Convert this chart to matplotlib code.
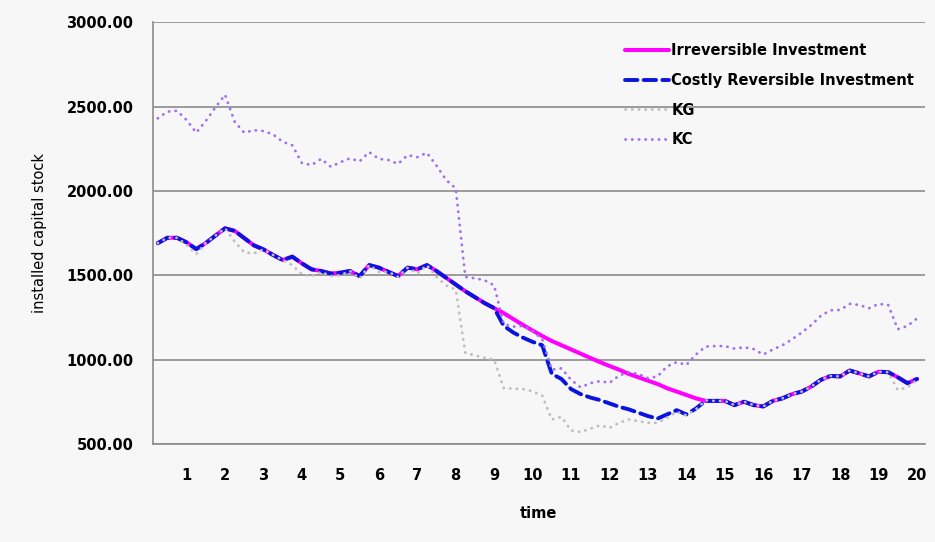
import numpy as np
import matplotlib
matplotlib.use("Agg")
import matplotlib.pyplot as plt

# quarterly observations, labelled by year 1..20
quarters = np.arange(1, 81) / 4.0
year_ticks = list(range(1, 21))

irreversible = [
    1690, 1722, 1722, 1695, 1655, 1691, 1735, 1778,
    1763, 1720, 1677, 1653, 1620, 1590, 1610, 1570,
    1535, 1525, 1510, 1515, 1525, 1495, 1560, 1545,
    1520, 1495, 1545, 1535, 1560, 1525, 1485, 1445,
    1405, 1370, 1335, 1305, 1275, 1240, 1205, 1172,
    1140, 1110, 1085, 1060, 1035, 1010, 985, 962,
    940, 915, 895, 875, 855, 830, 810, 790,
    770, 755, 755, 755, 730, 750, 730, 722,
    755, 770, 795, 810, 840, 880, 903, 900,
    935, 918, 900, 928, 925, 895, 860, 885,
]

costly_reversible = irreversible[:36] + [
    1200, 1160, 1130, 1105,
    1085, 915, 885, 825, 795, 775, 760, 740,
    720, 705, 685, 665, 650, 675, 700, 675,
    710, 755,
] + irreversible[58:]

kg = [
    1690, 1722, 1722, 1680, 1625, 1691, 1735, 1778,
    1700, 1635, 1630, 1653, 1620, 1590, 1560, 1505,
    1495, 1520, 1495, 1500, 1525, 1480, 1560, 1520,
    1520, 1490, 1545, 1510, 1560, 1490, 1440, 1415,
    1040, 1025, 1010, 1000, 830, 828, 825, 812,
    785, 645, 660, 580, 570, 590, 610, 595,
    625, 645, 635, 625, 625, 655, 690, 670,
    705, 758, 755, 755, 730, 750, 730, 722,
    755, 770, 795, 810, 840, 880, 903, 900,
    935, 918, 900, 928, 925, 820, 835, 880,
]

kc = [
    2430, 2470, 2475, 2420, 2345, 2415, 2495, 2570,
    2410, 2345, 2360, 2355, 2335, 2291, 2270, 2165,
    2153, 2190, 2143, 2170, 2193, 2175, 2230, 2190,
    2183, 2160, 2212, 2200, 2226, 2150, 2065, 2015,
    1490, 1482, 1470, 1440, 1210, 1195, 1200, 1170,
    1120, 940, 948, 880, 835, 860, 872, 862,
    905, 925, 915, 890, 900, 960, 985, 968,
    1030, 1077, 1080, 1080, 1065, 1073, 1062, 1030,
    1060, 1085, 1120, 1160, 1205, 1260, 1292, 1294,
    1330, 1324, 1304, 1330, 1324, 1180, 1199, 1244,
]

bg = "#f7f7f7"
fig = plt.figure(figsize=(9.35, 5.42), dpi=100, facecolor=bg)
ax = fig.add_axes([0.1636, 0.181, 0.8254, 0.778], facecolor=bg)

ax.plot(quarters, irreversible, color="#ff00ff", lw=2.9, label="Irreversible Investment",
        solid_capstyle="round")
ax.plot(quarters, costly_reversible, color="#0a14e0", lw=2.8, dashes=(3.2, 1.6),
        dash_capstyle="round", label="Costly Reversible Investment")
ax.plot(quarters, kg, color="#bdbdbd", lw=2.0, dashes=(0.1, 2.3),
        dash_capstyle="round", label="KG")
ax.plot(quarters, kc, color="#9d6ff2", lw=2.0, dashes=(0.1, 2.3),
        dash_capstyle="round", label="KC")

ax.set_xlim(0.125, 20.2)
ax.set_ylim(500, 3000)
ax.set_yticks(np.arange(500, 3001, 500))
ax.set_yticklabels([f"{v:.2f}" for v in np.arange(500, 3001, 500)])
ax.set_xticks(year_ticks)
ax.set_xticklabels([str(y) for y in year_ticks])

ax.grid(axis="y", color="#8c8c8c", lw=1.2)
ax.set_axisbelow(True)
ax.tick_params(length=0)
ax.tick_params(axis="y", pad=14)
ax.tick_params(axis="x", pad=17)
for lab in ax.get_xticklabels() + ax.get_yticklabels():
    lab.set_fontweight("bold")
    lab.set_fontsize(10.5)

for side in ("top", "right"):
    ax.spines[side].set_visible(False)
ax.spines["left"].set_color("#8c8c8c")
ax.spines["bottom"].set_color("#8c8c8c")
ax.spines["left"].set_linewidth(1.2)
ax.spines["bottom"].set_linewidth(1.2)

ax.set_ylabel("installed capital stock", fontsize=10.5, labelpad=14)
ax.set_xlabel("time", fontsize=10.5, fontweight="bold", labelpad=17)

leg = ax.legend(loc="upper left", bbox_to_anchor=(0.595, 0.981), frameon=False,
                handlelength=3.0, handletextpad=0.15, labelspacing=1.0,
                prop={"weight": "bold", "size": 10.5})

fig.savefig("out.png", dpi=100, facecolor=bg)
